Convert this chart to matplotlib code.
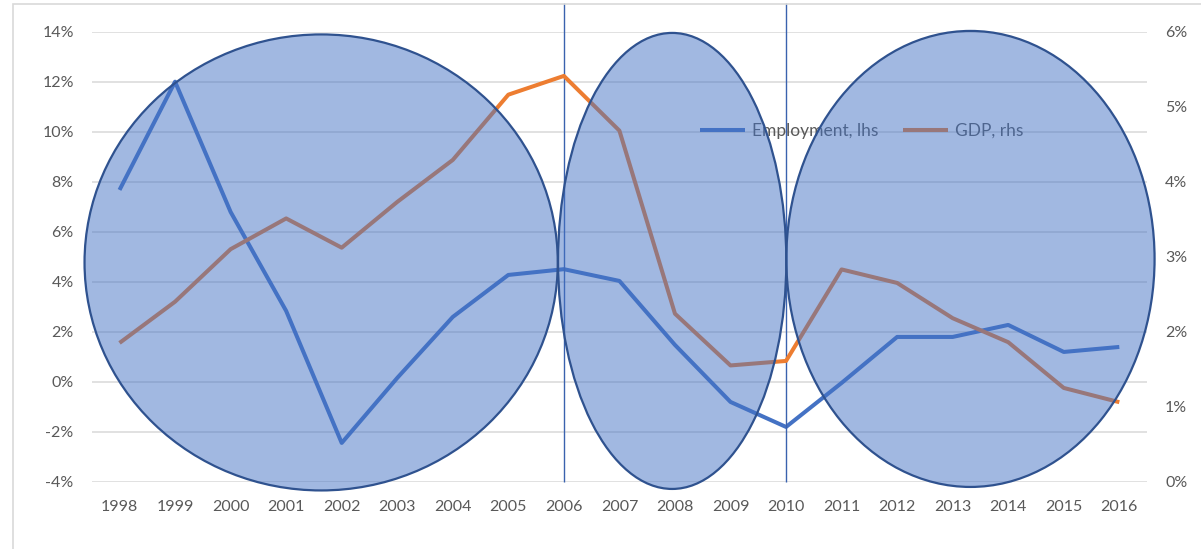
import matplotlib.pyplot as plt
from matplotlib.patches import Ellipse, Rectangle
from matplotlib.ticker import FuncFormatter

plt.rcParams['font.family'] = ['Lato', 'DejaVu Sans']

years = list(range(1998, 2017))
employment = [7.67, 12.0, 6.79, 2.83, -2.45, 0.15, 2.59, 4.27, 4.5, 4.03,
              1.47, -0.81, -1.81, -0.05, 1.79, 1.79, 2.27, 1.19, 1.39]
gdp = [1.85, 2.40, 3.10, 3.51, 3.12, 3.73, 4.29, 5.16, 5.41, 4.68,
       2.24, 1.55, 1.61, 2.83, 2.65, 2.18, 1.86, 1.25, 1.06]
breaks = [2006, 2010]

txt = '#595959'
grid = '#D9D9D9'
blue = '#4472C4'
orange = '#ED7D31'

fig = plt.figure(figsize=(12.01, 5.49), dpi=100)
ax = fig.add_axes([0.0764, 0.1226, 0.8787, 0.8197])
ax2 = ax.twinx()

# frame around the chart
fig.patches.append(Rectangle((13 / 1201, -0.2), 1.2, 1.2 - 4 / 549,
                             transform=fig.transFigure, fill=False,
                             edgecolor=grid, lw=1.2))

ax.plot(years, employment, color=blue, lw=2.9, solid_capstyle='butt',
        label='Employment, lhs', zorder=3)
ax2.plot(years, gdp, color=orange, lw=2.9, solid_capstyle='butt',
         label='GDP, rhs', zorder=3)

ax.set_xlim(1997.5, 2016.5)
ax.set_ylim(-4, 14)
ax2.set_ylim(0, 6)
ax.set_yticks(range(-4, 15, 2))
ax2.set_yticks(range(0, 7))
ax.set_xticks(years)
pct = FuncFormatter(lambda v, p: f'{v:.0f}%')
ax.yaxis.set_major_formatter(pct)
ax2.yaxis.set_major_formatter(pct)

ax.grid(axis='y', color=grid, lw=1.1)
ax.set_axisbelow(True)
for a in (ax, ax2):
    for s in a.spines.values():
        s.set_visible(False)
ax.tick_params(axis='both', length=0, colors=txt, labelsize=11.5)
ax.tick_params(axis='y', pad=13)
ax.tick_params(axis='x', pad=13)
ax2.tick_params(axis='y', length=0, colors=txt, labelsize=11.5, pad=13)

# period markers
ax.vlines(breaks, -4, 15.15, color='#3A62AE', lw=1.0, clip_on=False, zorder=4)

h1, l1 = ax.get_legend_handles_labels()
h2, l2 = ax2.get_legend_handles_labels()
leg = ax2.legend(h1 + h2, l1 + l2, loc='center left', ncol=2,
                 bbox_to_anchor=(700 / 1201, 1 - 131 / 549),
                 bbox_transform=fig.transFigure, frameon=False,
                 borderaxespad=0, borderpad=0, handlelength=2.6,
                 handletextpad=0.4, columnspacing=1.4, fontsize=12.5)
for t in leg.get_texts():
    t.set_color(txt)
leg.set_zorder(5)

# shaded periods
periods = [(2001.63, 4.77, 8.52), (2007.95, 4.83, 4.11), (2013.32, 4.91, 6.63)]
for cx, cy, w in periods:
    e = Ellipse((cx, cy), w, 18.24, transform=ax.transData,
                facecolor=(0x44 / 255, 0x72 / 255, 0xC4 / 255, 0.5),
                edgecolor='#2F528F', lw=1.6, clip_on=False, zorder=10)
    ax2.add_patch(e)

fig.savefig('out.png', dpi=100)
